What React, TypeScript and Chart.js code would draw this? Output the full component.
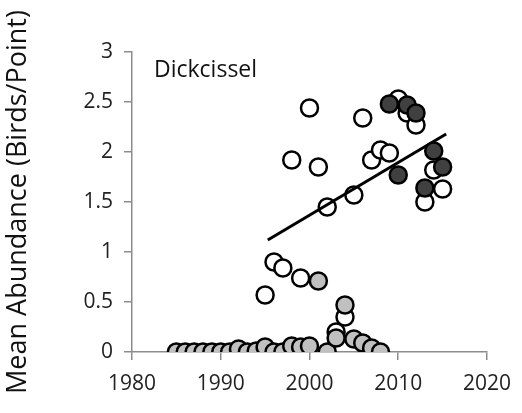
import React, { useEffect, useRef } from "react";
import { Chart, registerables } from "chart.js";

Chart.register(...registerables);

// ---- data ----
const openYears = [1995, 1996, 1997, 1998, 1999, 2000, 2001, 2002, 2003, 2004, 2005, 2006, 2007, 2008, 2009, 2010, 2011, 2012, 2013, 2014, 2015];
const openValues = [0.57, 0.9, 0.84, 1.92, 0.74, 2.44, 1.85, 1.45, 0.2, 0.35, 1.57, 2.34, 1.92, 2.02, 1.99, 2.53, 2.39, 2.27, 1.5, 1.82, 1.63];

const grayYears = [1985, 1986, 1987, 1988, 1989, 1990, 1991, 1992, 1993, 1994, 1995, 1996, 1997, 1998, 1999, 2000, 2001, 2002, 2003, 2004, 2005, 2006, 2007, 2008];
const grayValues = [0, 0, 0, 0, 0, 0, 0, 0.03, 0, 0.01, 0.05, 0, 0, 0.06, 0.05, 0.06, 0.71, 0, 0.14, 0.47, 0.13, 0.09, 0.04, 0];

const darkYears = [2009, 2010, 2011, 2012, 2013, 2014, 2015];
const darkValues = [2.48, 1.77, 2.47, 2.39, 1.64, 2.01, 1.85];

const trendYears = [1995.3, 2015.4];
const trendValues = [1.12, 2.18];

const xTickValues = [1980, 1990, 2000, 2010, 2020];
const yTickValues = [0, 0.5, 1, 1.5, 2, 2.5, 3];

const speciesLabel = "Dickcissel";
const yAxisTitle = "Mean Abundance (Birds/Point)";

const FONT = "'Open Sans', 'Noto Sans', sans-serif";

const toPoints = (xs: number[], ys: number[]) => xs.map((x, i) => ({ x, y: ys[i] }));

const labelPlugin = {
  id: "speciesLabel",
  afterDraw(chart: any) {
    const { ctx, chartArea } = chart;
    ctx.save();
    ctx.font = `23px ${FONT}`;
    ctx.fillStyle = "#111";
    ctx.textAlign = "left";
    ctx.textBaseline = "middle";
    ctx.fillText(speciesLabel, chartArea.left + 22, 70);
    ctx.restore();
  },
};

export default function App() {
  const ref = useRef<HTMLCanvasElement | null>(null);

  useEffect(() => {
    if (!ref.current) return;
    const pointBase = {
      pointRadius: 8.5,
      pointHoverRadius: 8.5,
      pointBorderWidth: 2.5,
      borderColor: "#000",
      showLine: false,
    };
    const chart = new Chart(ref.current, {
      type: "scatter",
      data: {
        datasets: [
          {
            ...pointBase,
            data: toPoints(darkYears, darkValues),
            backgroundColor: "#404040",
            pointBackgroundColor: "#404040",
            order: 0,
          },
          {
            type: "line" as any,
            data: toPoints(trendYears, trendValues),
            showLine: true,
            borderColor: "#000",
            borderWidth: 3,
            pointRadius: 0,
            fill: false,
            order: 1,
          },
          {
            ...pointBase,
            data: toPoints(grayYears, grayValues),
            backgroundColor: "#c0c0c0",
            pointBackgroundColor: "#c0c0c0",
            order: 2,
          },
          {
            ...pointBase,
            data: toPoints(openYears, openValues),
            backgroundColor: "#fff",
            pointBackgroundColor: "#fff",
            order: 3,
          },
        ] as any,
      },
      options: {
        responsive: false,
        animation: false,
        events: [],
        layout: { padding: { left: 0, right: 34, top: 52, bottom: 0 } },
        plugins: { legend: { display: false }, tooltip: { enabled: false } },
        scales: {
          x: {
            type: "linear",
            min: 1980,
            max: 2020,
            afterBuildTicks: (s: any) => {
              s.ticks = xTickValues.map((v) => ({ value: v }));
            },
            afterFit: (s: any) => {
              s.height = 61;
            },
            grid: { drawOnChartArea: false, drawTicks: true, tickLength: 8, color: "#8c8c8c", lineWidth: 1.5 },
            border: { display: true, color: "#8c8c8c", width: 1.5 },
            ticks: {
              font: { family: FONT, size: 21 },
              color: "#222",
              padding: 11,
              maxRotation: 0,
              callback: (v: any) => String(v),
            },
          },
          y: {
            type: "linear",
            min: 0,
            max: 3,
            afterBuildTicks: (s: any) => {
              s.ticks = yTickValues.map((v) => ({ value: v }));
            },
            afterFit: (s: any) => {
              s.width = 132;
            },
            grid: { drawOnChartArea: false, drawTicks: true, tickLength: 8, color: "#8c8c8c", lineWidth: 1.5 },
            border: { display: true, color: "#8c8c8c", width: 1.5 },
            ticks: {
              font: { family: FONT, size: 21 },
              color: "#222",
              padding: 11,
              callback: (v: any) => String(v),
            },
            title: {
              display: true,
              text: yAxisTitle,
              font: { family: FONT, size: 27 },
              color: "#111",
              padding: { top: 2, bottom: 0 },
            },
          },
        },
      },
      plugins: [labelPlugin],
    });
    return () => chart.destroy();
  }, []);

  return (
    <div style={{ position: "absolute", left: 0, top: 0, width: 522, height: 413, background: "#fff" }}>
      <canvas ref={ref} width={522} height={413} style={{ width: 522, height: 413 }} />
    </div>
  );
}
